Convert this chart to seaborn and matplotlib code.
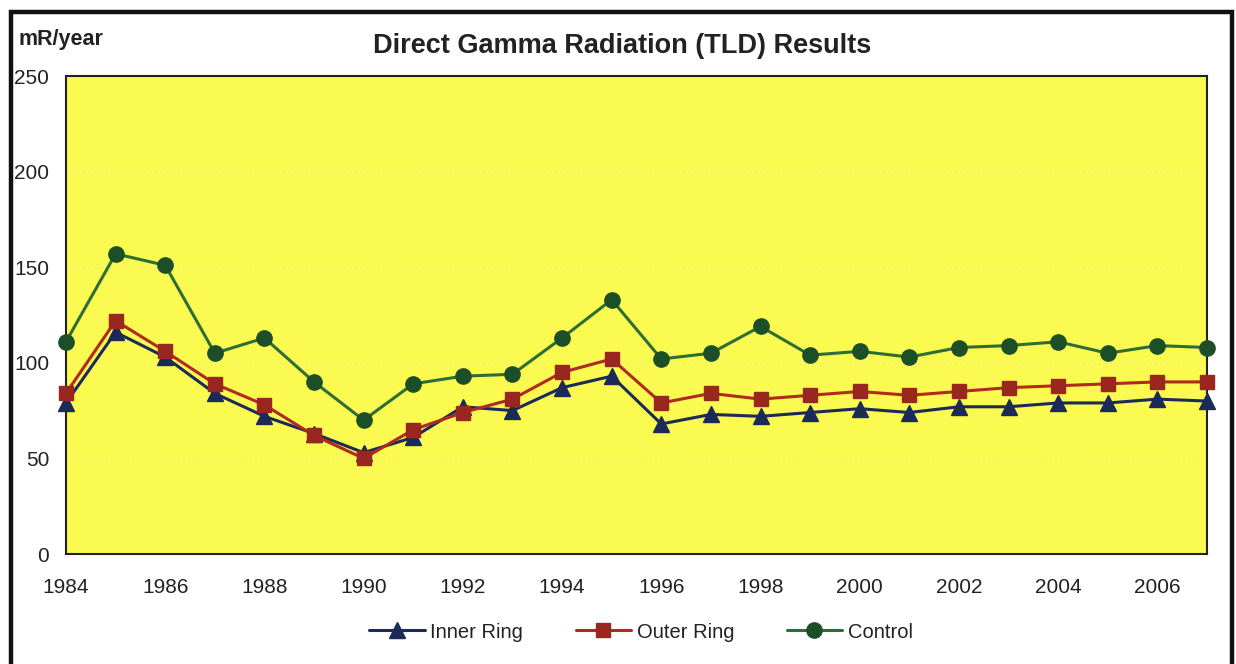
import matplotlib
matplotlib.use("Agg")
import matplotlib.pyplot as plt
import seaborn as sns
import pandas as pd
from matplotlib.patches import Rectangle

years = list(range(1984, 2008))
inner_ring = [79, 116, 103, 84, 72, 63, 53, 61, 77, 75, 87, 93, 68, 73, 72, 74, 76, 74, 77, 77, 79, 79, 81, 80]
outer_ring = [84, 122, 106, 89, 78, 62, 50, 65, 74, 81, 95, 102, 79, 84, 81, 83, 85, 83, 85, 87, 88, 89, 90, 90]
control = [111, 157, 151, 105, 113, 90, 70, 89, 93, 94, 113, 133, 102, 105, 119, 104, 106, 103, 108, 109, 111, 105, 109, 108]
series_names = ["Inner Ring", "Outer Ring", "Control"]
x_ticks = list(range(1984, 2007, 2))
y_ticks = [0, 50, 100, 150, 200, 250]

sns.set_style("white")
plt.rcParams['font.family'] = ['Liberation Sans', 'DejaVu Sans']

W, H = 1236, 664
fig = plt.figure(figsize=(W / 100, H / 100), dpi=100)
fig.patch.set_facecolor("white")
ax = fig.add_axes([66 / W, 1 - 554 / H, (1207 - 66) / W, (554 - 76) / H])
ax.set_facecolor("#FAFA50")

styles = {
    "Inner Ring": dict(line="#1C2A5A", face="#1C2A5A", marker="^", ms=11),
    "Outer Ring": dict(line="#B02A22", face="#9A2620", marker="s", ms=10),
    "Control": dict(line="#2E6E35", face="#1C4F28", marker="o", ms=11),
}
data = {"Inner Ring": inner_ring, "Outer Ring": outer_ring, "Control": control}

for name in series_names:
    st = styles[name]
    df = pd.DataFrame({"year": years, "value": data[name]})
    sns.lineplot(data=df, x="year", y="value", ax=ax, color=st["line"], lw=2.2,
                 marker=st["marker"], markersize=st["ms"], markerfacecolor=st["face"],
                 markeredgecolor=st["face"], markeredgewidth=1, label=name, clip_on=False,
                 zorder=3)

ax.set_xlim(1984, 2007)
ax.set_ylim(0, 250)
ax.set_xticks(x_ticks)
ax.set_xticklabels([str(t) for t in x_ticks], fontsize=15, color="#222222")
ax.set_yticks(y_ticks)
ax.set_yticklabels([str(t) for t in y_ticks], fontsize=15, color="#222222")
ax.tick_params(axis="x", length=0, pad=17)
ax.tick_params(axis="y", length=3, pad=9, color="#888888")
for y in [50, 100, 150, 200]:
    ax.axhline(y, color="#E6E6B0", lw=1.0, ls=(0, (1, 3)), zorder=1)
for s in ax.spines.values():
    s.set_color("#222222")
    s.set_linewidth(1.5)
ax.set_xlabel("")
ax.set_ylabel("")
ax.get_legend().remove()

fig.text(622 / W, 1 - 46 / H, "Direct Gamma Radiation (TLD) Results", ha="center", va="center",
         fontsize=19.5, fontweight="bold", color="#222222")
fig.text(18 / W, 1 - 40 / H, "mR/year", ha="left", va="center",
         fontsize=15.5, fontweight="bold", color="#222222")

handles, labels = ax.get_legend_handles_labels()
fig.legend(handles, labels, loc="center", bbox_to_anchor=(641 / W, 1 - 632 / H), ncol=3,
           frameon=False, fontsize=14.5, handlelength=2.75, columnspacing=2.6, handletextpad=0.28,
           labelcolor="#222222")

fig.add_artist(Rectangle((10.5 / W, -0.05), (1232 - 10.5) / W, 1.05 - 12 / H,
                         transform=fig.transFigure, fill=False, edgecolor="#111111", lw=3.2))

fig.savefig("out.png", dpi=100)
